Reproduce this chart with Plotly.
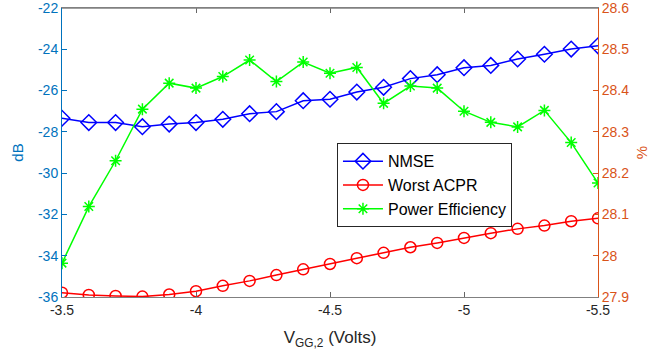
import plotly.graph_objects as go

# Gate bias sweep (Volts)
vgg2 = [-3.5, -3.6, -3.7, -3.8, -3.9, -4.0, -4.1, -4.2, -4.3, -4.4, -4.5,
        -4.6, -4.7, -4.8, -4.9, -5.0, -5.1, -5.2, -5.3, -5.4, -5.5]

# Left axis (dB)
nmse = [-27.34, -27.55, -27.55, -27.75, -27.62, -27.55, -27.39, -27.12, -27.02, -26.49, -26.42,
        -26.07, -25.84, -25.42, -25.23, -24.89, -24.78, -24.47, -24.24, -23.99, -23.83]
worst_acpr = [-35.79, -35.90, -35.95, -35.98, -35.88, -35.72, -35.46, -35.22, -34.94, -34.66, -34.40,
              -34.12, -33.86, -33.59, -33.38, -33.14, -32.91, -32.70, -32.54, -32.33, -32.19]

# Right axis (%)
power_eff = [27.982, 28.119, 28.230, 28.355, 28.418, 28.406, 28.434, 28.474, 28.422, 28.469, 28.442,
             28.456, 28.369, 28.411, 28.406, 28.350, 28.323, 28.312, 28.352, 28.274, 28.176]

x_ticks = [-3.5, -4.0, -4.5, -5.0, -5.5]
x_labels = ["-3.5", "-4", "-4.5", "-5", "-5.5"]
y1_ticks = [-36, -34, -32, -30, -28, -26, -24, -22]
y1_labels = ["-36", "-34", "-32", "-30", "-28", "-26", "-24", "-22"]
y2_ticks = [27.9, 28.0, 28.1, 28.2, 28.3, 28.4, 28.5, 28.6]
y2_labels = ["27.9", "28", "28.1", "28.2", "28.3", "28.4", "28.5", "28.6"]

BLUE_AX = "#0072BD"
ORANGE_AX = "#D95319"
BOX = "#808080"
FONT = "Liberation Sans, Arial, Helvetica, sans-serif"
EPS1 = 1e-3
EPS2 = 1e-5

fig = go.Figure()
fig.add_trace(go.Scatter(
    x=vgg2, y=nmse, name="NMSE", mode="lines+markers",
    line=dict(color="#0000FF", width=1.5),
    marker=dict(symbol="diamond-open", size=12, color="#0000FF", line=dict(width=1.5)),
))
fig.add_trace(go.Scatter(
    x=vgg2, y=worst_acpr, name="Worst ACPR", mode="lines+markers",
    line=dict(color="#FF0000", width=1.5),
    marker=dict(symbol="circle-open", size=11, color="#FF0000", line=dict(width=1.5)),
))
fig.add_trace(go.Scatter(
    x=vgg2, y=power_eff, name="Power Efficiency", mode="lines+markers", yaxis="y2",
    line=dict(color="#00FF00", width=1.5),
    marker=dict(symbol="asterisk-open", size=10, color="#00FF00", line=dict(width=1.5, color="#00FF00")),
))

# Top frame edge of the axes box
fig.add_shape(type="line", xref="paper", yref="paper", x0=0, x1=1, y0=1, y1=1,
              line=dict(color=BOX, width=1.5), layer="above")

fig.update_layout(
    width=661, height=360,
    margin=dict(l=62, r=63, t=8, b=63, autoexpand=False),
    paper_bgcolor="white", plot_bgcolor="white",
    font=dict(family=FONT, size=14, color="#262626"),
    showlegend=True,
    legend=dict(
        x=0.513, y=0.532, xanchor="left", yanchor="top",
        bgcolor="white", bordercolor="#262626", borderwidth=1,
        font=dict(size=16, color="#000000"),
        tracegroupgap=0, itemwidth=40,
    ),
    xaxis=dict(
        range=[-3.5, -5.5], tickvals=x_ticks, ticktext=x_labels,
        ticks="inside", ticklen=5, tickcolor="#666666",
        showline=True, linecolor=BOX, linewidth=1, mirror="ticks",
        showgrid=False, zeroline=False, automargin=False,
        tickfont=dict(size=14, color="#262626"),
        ticklabeloverflow="allow",
        title=dict(text="V<sub>GG,2</sub> (Volts)", font=dict(size=17, color="#262626"), standoff=14),
    ),
    yaxis=dict(
        range=[-36 - EPS1, -22 + EPS1], tickvals=y1_ticks, ticktext=y1_labels,
        ticks="inside", ticklen=5, tickcolor=BLUE_AX,
        showline=True, linecolor=BLUE_AX, linewidth=1,
        showgrid=False, zeroline=False, automargin=False,
        tickfont=dict(size=14, color=BLUE_AX),
        ticklabeloverflow="allow",
        title=dict(text="dB", font=dict(size=15, color=BLUE_AX), standoff=10),
    ),
    yaxis2=dict(
        range=[27.9 - EPS2, 28.6 + EPS2], tickvals=y2_ticks, ticktext=y2_labels,
        overlaying="y", side="right", anchor="x",
        ticks="inside", ticklen=5, tickcolor=ORANGE_AX,
        showline=True, linecolor=ORANGE_AX, linewidth=1,
        showgrid=False, zeroline=False, automargin=False,
        tickfont=dict(size=14, color=ORANGE_AX),
        ticklabeloverflow="allow",
        title=dict(text="%", font=dict(size=15, color=ORANGE_AX), standoff=8),
    ),
)

fig.write_html("out.html")
